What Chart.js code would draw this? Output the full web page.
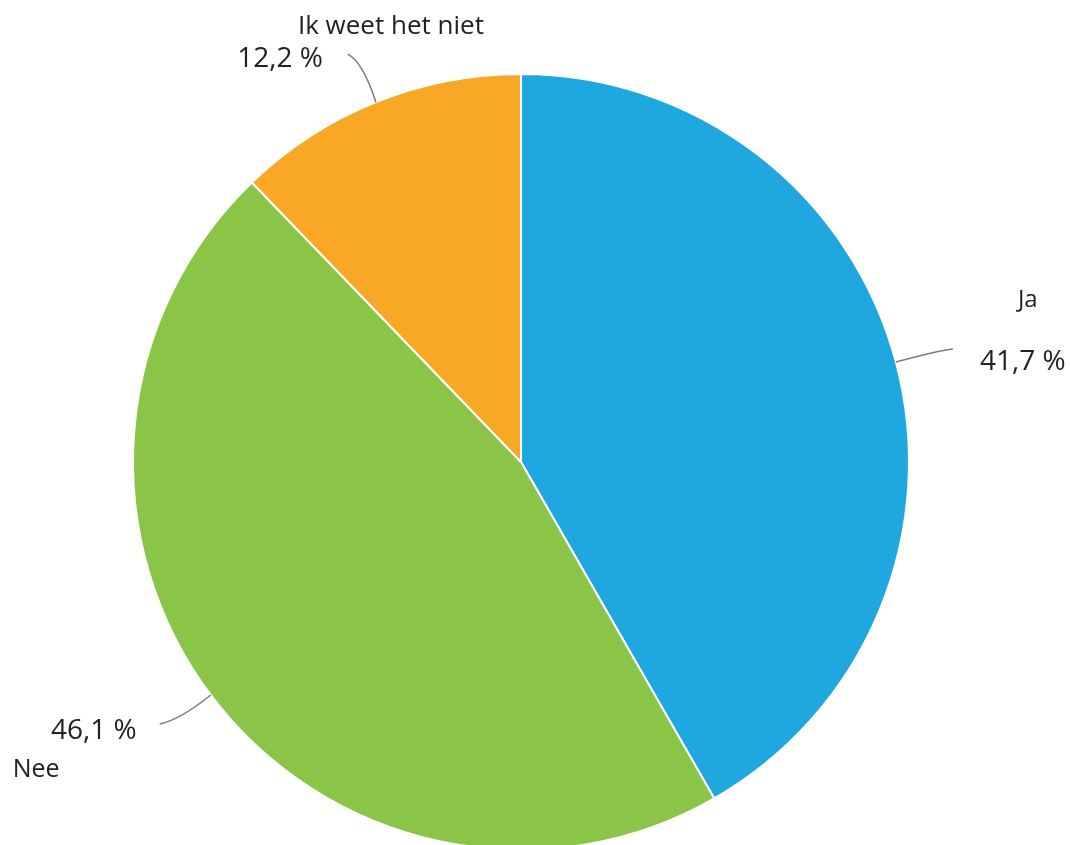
<!DOCTYPE html>
<html>
<head>
<meta charset="utf-8">
<script src="https://cdn.jsdelivr.net/npm/chart.js@4.4.1/dist/chart.umd.min.js"></script>
<style>
  html, body { margin: 0; padding: 0; background: #fff; overflow: hidden; }
  #wrap { width: 1070px; height: 845px; overflow: hidden; }
</style>
</head>
<body>
<div id="wrap"><canvas id="pieChart" width="1070" height="924"></canvas></div>
<script>
// chart data
const categories = ['Ja', 'Nee', 'Ik weet het niet'];
const percentages = [41.7, 46.1, 12.2];
const sliceColors = ['#1fa8e0', '#8bc547', '#f9a825'];

// leader line and text placement for each slice, relative to the point on the rim
const labelLayout = [
    { line: [[45, -12], [57, -13]], pct: [84, 8, 'left'], name: [122, -55, 'left', 24] },
    { line: [[-31, 25], [-51, 29]], pct: [-74, 44, 'right'], name: [-198, 82, 'left', 25] },
    { line: [[-13, -40], [-28, -48]], pct: [-53, -35, 'right'], name: [15, -68, 'center', 26] }
];

function formatPct(value) {
    return value.toFixed(1).replace('.', ',') + ' %';
}

// draws the outside labels with their small grey leader lines
const outsideLabels = {
    id: 'outsideLabels',
    afterDatasetsDraw(chart) {
        const ctx = chart.ctx;
        const meta = chart.getDatasetMeta(0);
        ctx.save();
        meta.data.forEach((arc, i) => {
            const p = arc.getProps(['x', 'y', 'startAngle', 'endAngle', 'outerRadius'], true);
            const mid = (p.startAngle + p.endAngle) / 2;
            const sx = p.x + Math.cos(mid) * p.outerRadius;
            const sy = p.y + Math.sin(mid) * p.outerRadius;
            const lay = labelLayout[i];

            ctx.strokeStyle = '#7a7a7a';
            ctx.lineWidth = 1.5;
            ctx.beginPath();
            ctx.moveTo(sx, sy);
            ctx.quadraticCurveTo(sx + lay.line[0][0], sy + lay.line[0][1], sx + lay.line[1][0], sy + lay.line[1][1]);
            ctx.stroke();

            ctx.fillStyle = '#222';
            ctx.textBaseline = 'alphabetic';
            ctx.font = '28px "Open Sans", sans-serif';
            ctx.textAlign = lay.pct[2];
            ctx.fillText(formatPct(chart.data.datasets[0].data[i]), sx + lay.pct[0], sy + lay.pct[1]);
            ctx.font = lay.name[3] + 'px "Open Sans", sans-serif';
            ctx.textAlign = lay.name[2];
            ctx.fillText(chart.data.labels[i], sx + lay.name[0], sy + lay.name[1]);
        });
        ctx.restore();
    }
};

document.addEventListener('DOMContentLoaded', function () {
    const ctx = document.getElementById('pieChart').getContext('2d');

    new Chart(ctx, {
        type: 'pie',
        data: {
            labels: categories,
            datasets: [{
                data: percentages,
                backgroundColor: sliceColors,
                borderColor: '#ffffff',
                borderWidth: 2,
                radius: 388
            }]
        },
        options: {
            responsive: false,
            animation: false,
            layout: { padding: { left: 0, right: 28, top: 0, bottom: 0 } },
            plugins: {
                legend: { display: false },
                tooltip: { enabled: false }
            }
        },
        plugins: [outsideLabels]
    });
});
</script>
</body>
</html>
